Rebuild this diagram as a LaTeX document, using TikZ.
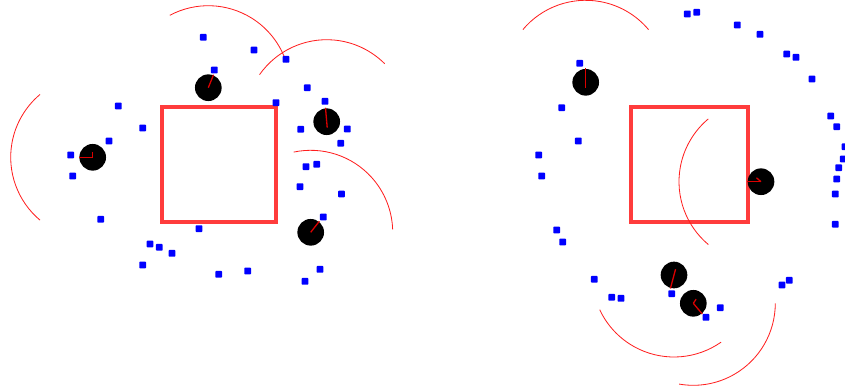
\documentclass[tikz,border=0pt]{standalone}
\usepackage{tikz}
\usetikzlibrary{positioning}
\definecolor{wallred}{RGB}{255,60,60}
\definecolor{fovred}{RGB}{255,30,30}
\definecolor{headred}{RGB}{220,0,0}
\definecolor{lmblue}{RGB}{0,0,255}

\begin{document}
\begin{tikzpicture}[
    x=0.03cm, y=-0.03cm,
    obstacle/.style={draw=wallred, line width=2.6pt},
    robot/.style={circle, fill=black, minimum size=0.8cm, inner sep=0pt},
    heading/.style={draw=headred, line width=1.1pt},
    fov/.style={draw=fovred, line width=0.7pt},
    landmark/.style={rectangle, fill=lmblue, rounded corners=0.6pt,
        minimum size=0.2cm, inner sep=0pt}
    ]
    \useasboundingbox (0,0) rectangle (845,390);
    % obstacles
    \draw[obstacle] (162,107) rectangle (276,222);
    \draw[obstacle] (631,107) rectangle (748,222);
    % robots: x / y / heading / tail angle / tail length
    \foreach \x/\y/\h/\ta/\tl [count=\i] in {
        208.3/87.7/-68/0/0, 326.7/121.7/-95/85/6,
        92.7/157.3/180/-90/5, 310.7/232.3/-52/0/0,
        585.7/82.3/-90/90/6, 761/181.7/180/-139/6,
        674/275/105/-75/6, 693.3/303.3/50/-56/5} {
        \draw[fov] (\x,\y) ++(\h-50:82) arc[start angle=\h-50, end angle=\h+50, radius=82];
        \node[robot] (robot\i) at (\x,\y) {};
        \draw[heading] (robot\i.center) -- ++(\h:14);
        \draw[heading] (robot\i.center) -- ++(\ta:\tl);
    }
    % landmarks
    \foreach \x/\y in {
        203.3/37.3, 254/50, 286/59.3, 214.3/70, 307.3/87.7, 276/102.7,
        325/101.3, 118.3/106, 142.7/128, 300.7/129.3, 347.3/129, 109/141,
        340.7/143.3, 70.7/155, 72.7/176, 306/166.7, 316.7/164.3, 300/186.7,
        341.5/194, 100.7/219.3, 323.3/217, 199/228.7, 150/244, 159.3/247.3,
        172/253.3, 142.7/265, 218.7/274.3, 247.7/271, 320/269.3, 305/281.3,
        687.3/14, 696.7/12.3, 737.3/25, 760/34.3, 786.7/54, 796/57.3,
        812/79, 579.7/63.3, 561.7/107.7, 578.3/141, 538.7/155, 541.7/176,
        830.7/116, 836.7/126.7, 845/146.7, 843.3/159, 838.7/167.7, 836.7/179,
        835.3/194, 835.3/224.3, 556.7/230, 562.7/242, 594.3/279.3, 611.7/297.3,
        621/298.3, 671.7/293.7, 720.3/307.7, 706/317.3, 782/285, 789.3/280.3}
        \node[landmark] at (\x,\y) {};
\end{tikzpicture}
\end{document}
